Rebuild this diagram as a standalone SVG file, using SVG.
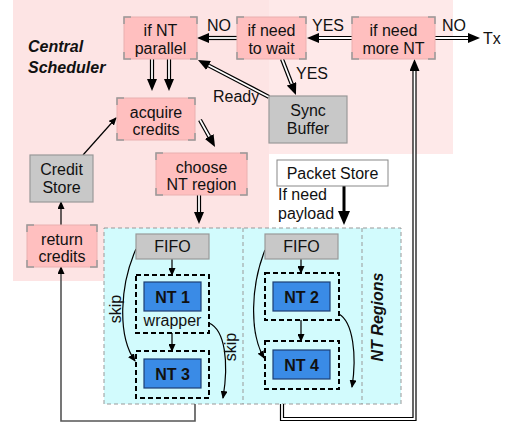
<svg xmlns="http://www.w3.org/2000/svg" width="514" height="425" viewBox="0 0 514 425">
<defs>
<style>
text{font-family:"Liberation Sans",Arial,sans-serif;font-size:16px;fill:#111}
.c{text-anchor:middle}
.bi{font-weight:bold;font-style:italic}
.b{font-weight:bold}
.pk{fill:#ffbfbf;stroke:#eab0b0;stroke-width:1}
.cn{fill:none;stroke:#999;stroke-width:1.5}
.gr{fill:#c8c8c8;stroke:#999;stroke-width:1.2}
.nt{fill:#3a8be6;stroke:#1d3f73;stroke-width:1.2}
.wr{fill:none;stroke:#000;stroke-width:2;stroke-dasharray:5,3}
.dbo{fill:none;stroke:#000;stroke-width:4.2;marker-end:url(#hd)}
.dbi{fill:none;stroke:#fff;stroke-width:1.8}
.th{fill:none;stroke:#000;stroke-width:1.2;marker-end:url(#ht)}
.rt{fill:none;stroke:#555;stroke-width:1.6;marker-end:url(#ht)}
</style>
<marker id="hd" viewBox="0 0 12 10" refX="0" refY="5" markerWidth="12" markerHeight="10" markerUnits="userSpaceOnUse" orient="auto"><path d="M0,0 L12,5 L0,10 z" fill="#000"/></marker>
<marker id="ht" viewBox="0 0 8 7" refX="7" refY="3.5" markerWidth="8" markerHeight="7" markerUnits="userSpaceOnUse" orient="auto"><path d="M0,0 L8,3.5 L0,7 z" fill="#000"/></marker>
</defs>
<g id="backgrounds">
<rect x="13" y="0" width="256" height="281" fill="#fde4e4"/>
<rect x="269" y="0" width="184" height="154" fill="#fee9e9"/>
<rect x="104" y="228" width="297" height="176" fill="#d2fbfd" stroke="#999" stroke-width="1" stroke-dasharray="4,3"/>
<line x1="243" y1="228" x2="243" y2="404" stroke="#999" stroke-dasharray="4,3"/>
<line x1="362" y1="228" x2="362" y2="404" stroke="#999" stroke-dasharray="4,3"/>
<text x="28" y="52" class="bi">Central</text>
<text x="28" y="73" class="bi">Scheduler</text>
<text class="bi c" transform="translate(383,317) rotate(-90)">NT Regions</text>
</g>
<g id="connectors">
<path class="dbo" d="M352,38 H319"/><path class="dbi" d="M352,38 H319"/>
<path class="dbo" d="M435,38 H468"/><path class="dbi" d="M435,38 H468"/>
<path class="dbo" d="M237,38 H209"/><path class="dbi" d="M237,38 H209"/>
<path class="dbo" d="M282,59 L291.6,83.8"/><path class="dbi" d="M282,59 L291.6,83.8"/>
<path class="dbo" d="M269,97 L208.6,65.5"/><path class="dbi" d="M269,97 L208.6,65.5"/>
<path class="dbo" d="M152,59 V79"/><path class="dbi" d="M152,59 V79"/>
<path class="dbo" d="M169,59 V79"/><path class="dbi" d="M169,59 V79"/>
<path class="dbo" d="M200,120 L209.2,136.5"/><path class="dbi" d="M200,120 L209.2,136.5"/>
<path class="dbo" d="M199,195 V212"/><path class="dbi" d="M199,195 V212"/>
<path class="dbo" d="M282,404 V419 H414.5 V71"/><path class="dbi" d="M282,404 V419 H414.5 V71"/>
<path d="M344,186 V212" stroke="#000" stroke-width="3" fill="none"/>
<path d="M338,211 L350,211 L344,225 z" fill="#000"/>
<path class="th" d="M61,225 V202"/>
<path class="th" d="M83,155 L116,118"/>
<path class="rt" d="M195,404 V421 H61 V267"/>
<path class="th" d="M172,259 V275"/>
<path class="th" d="M172,333 V351"/>
<path class="th" d="M301,259 V273"/>
<path class="th" d="M301,320 V341"/>
<path class="th" d="M136,249 C120,285 117,335 135,361"/>
<path class="th" d="M209,323 C225,330 229,362 223,398"/>
<path class="th" d="M265,250 C251,285 249,332 264,358"/>
<path class="th" d="M339,314 C353,322 357,355 352,387"/>
<text x="454" y="31" class="c">NO</text>
<text x="483" y="44">Tx</text>
<text x="328" y="31" class="c">YES</text>
<text x="219" y="31" class="c">NO</text>
<text x="296" y="79">YES</text>
<text x="213" y="102">Ready</text>
<text x="278" y="200">If need</text>
<text x="278" y="219">payload</text>
<text class="c" transform="translate(121,309) rotate(-90)">skip</text>
<text class="c" transform="translate(236,347) rotate(-90)">skip</text>
</g>
<g id="n-parallel">
<rect class="pk" x="124" y="17" width="73" height="42"/>
<path class="cn" d="M124,24V17H131M190,17H197V24M197,52V59H190M131,59H124V52"/>
<text x="160.5" y="36" class="c">if NT</text><text x="160.5" y="53.5" class="c">parallel</text>
</g>
<g id="n-wait">
<rect class="pk" x="237" y="17" width="69" height="42"/>
<path class="cn" d="M237,24V17H244M299,17H306V24M306,52V59H299M244,59H237V52"/>
<text x="271.5" y="36" class="c">if need</text><text x="271.5" y="53.5" class="c">to wait</text>
</g>
<g id="n-more">
<rect class="pk" x="352" y="17" width="83" height="42"/>
<path class="cn" d="M352,24V17H359M428,17H435V24M435,52V59H428M359,59H352V52"/>
<text x="393.5" y="36" class="c">if need</text><text x="393.5" y="53.5" class="c">more NT</text>
</g>
<g id="n-acquire">
<rect class="pk" x="117" y="98" width="78" height="42"/>
<path class="cn" d="M117,105V98H124M188,98H195V105M195,133V140H188M124,140H117V133"/>
<text x="156" y="117.5" class="c">acquire</text><text x="156" y="135" class="c">credits</text>
</g>
<g id="n-choose">
<rect class="pk" x="156" y="153" width="91" height="42"/>
<path class="cn" d="M156,160V153H163M240,153H247V160M247,188V195H240M163,195H156V188"/>
<text x="201.5" y="172.5" class="c">choose</text><text x="201.5" y="190" class="c">NT region</text>
</g>
<g id="n-return">
<rect class="pk" x="27" y="225" width="70" height="42"/>
<path class="cn" d="M27,232V225H34M90,225H97V232M97,260V267H90M34,267H27V260"/>
<text x="62" y="244.5" class="c">return</text><text x="62" y="262" class="c">credits</text>
</g>
<g id="n-credit-store">
<rect class="gr" x="30" y="155" width="63" height="47"/>
<text x="61.5" y="174.5" class="c">Credit</text><text x="61.5" y="192.5" class="c">Store</text>
</g>
<g id="n-sync">
<rect class="gr" x="269" y="96" width="78" height="47"/>
<text x="308" y="115.5" class="c">Sync</text><text x="308" y="133.5" class="c">Buffer</text>
</g>
<g id="n-packet">
<rect x="277" y="160" width="111" height="26" fill="#fff" stroke="#888" stroke-width="1"/>
<text x="332.5" y="179" class="c">Packet Store</text>
</g>
<g id="n-fifo1"><rect class="gr" x="136" y="234" width="73" height="25"/><text x="172.5" y="252" class="c">FIFO</text></g>
<g id="n-fifo2"><rect class="gr" x="265" y="234" width="73" height="25"/><text x="301.5" y="252" class="c">FIFO</text></g>
<g id="n-nt1">
<rect class="wr" x="136" y="275" width="73" height="58"/>
<rect class="nt" x="144" y="282" width="57" height="29"/>
<text x="172.5" y="302.5" class="c b">NT 1</text>
<text x="172.5" y="326" class="c">wrapper</text>
</g>
<g id="n-nt3">
<rect class="wr" x="136" y="351" width="73" height="47"/>
<rect class="nt" x="144" y="359" width="57" height="29"/>
<text x="172.5" y="379.5" class="c b">NT 3</text>
</g>
<g id="n-nt2">
<rect class="wr" x="265" y="273" width="74" height="47"/>
<rect class="nt" x="273" y="282" width="57" height="29"/>
<text x="301.5" y="302.5" class="c b">NT 2</text>
</g>
<g id="n-nt4">
<rect class="wr" x="265" y="341" width="74" height="48"/>
<rect class="nt" x="273" y="350" width="57" height="29"/>
<text x="301.5" y="370.5" class="c b">NT 4</text>
</g>
</svg>
